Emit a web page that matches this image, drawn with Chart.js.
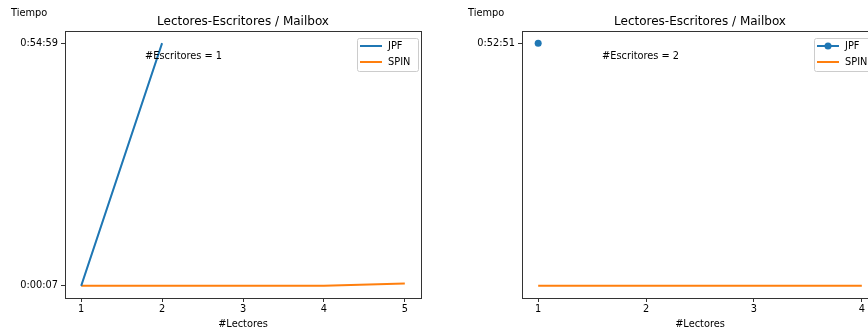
<!DOCTYPE html>
<html>
<head>
<meta charset="utf-8">
<script src="https://cdn.jsdelivr.net/npm/chart.js@4/dist/chart.umd.min.js"></script>
<style>
  html, body { margin: 0; padding: 0; background: #fff; overflow: hidden; }
  #wrap { position: relative; width: 868px; height: 333px; overflow: hidden; }
  .box { position: absolute; top: 0; width: 440px; height: 333px; }
</style>
</head>
<body>
<div id="wrap">
  <div class="box" style="left:0"><canvas id="c1" width="440" height="333"></canvas></div>
  <div class="box" style="left:457px"><canvas id="c2" width="440" height="333"></canvas></div>
</div>
<script>
// --- data (seconds) ---
const lectores1 = [1, 2, 3, 4, 5];
const jpf1 = [7, 3299];
const spin1 = [7, 7, 7, 7, 40];
const yTicks1 = [7, 3299];

const lectores2 = [1, 2, 3, 4];
const jpf2 = [3171];
const spin2 = [8, 8, 8, 8];
const yTicks2 = [3171];

const titleText = 'Lectores-Escritores / Mailbox';
const FONT = '"DejaVu Sans", sans-serif';
const FS = 9.8;
const BLUE = '#1f77b4';
const ORANGE = '#ff7f0e';

function fmtTime(s) {
  s = Math.round(s);
  const h = Math.floor(s / 3600);
  const m = Math.floor((s % 3600) / 60);
  const sec = s % 60;
  return `${h}:${String(m).padStart(2, '0')}:${String(sec).padStart(2, '0')}`;
}

function pts(xs, ys) {
  return ys.map((y, i) => ({ x: xs[i], y }));
}

// matplotlib-like 5% margins
function padRange(vals) {
  const lo = Math.min(...vals), hi = Math.max(...vals);
  const m = (hi - lo) * 0.05;
  return [lo - m, hi + m];
}

const figText = {
  id: 'figText',
  afterDraw(chart, args, opts) {
    const { ctx, chartArea: a } = chart;
    ctx.save();
    // spines
    ctx.strokeStyle = '#333';
    ctx.lineWidth = 1;
    ctx.strokeRect(Math.round(a.left) + 0.5, Math.round(a.top) + 0.5,
      Math.round(a.right - a.left), Math.round(a.bottom - a.top));
    ctx.fillStyle = '#000';
    // title
    ctx.font = `12px ${FONT}`;
    ctx.textAlign = 'center';
    ctx.textBaseline = 'middle';
    ctx.fillText(titleText, (a.left + a.right) / 2, a.top - 9);
    // y label
    ctx.font = `${FS}px ${FONT}`;
    ctx.textAlign = 'left';
    ctx.fillText('Tiempo', a.left - 54, 13);
    // annotation
    ctx.fillText(opts.note, a.left + 80, a.top + 25);
    // legend
    const bw = 61, bh = 33;
    const bx = a.right - bw - 3, by = a.top + 7;
    ctx.fillStyle = 'rgba(255,255,255,0.8)';
    ctx.strokeStyle = '#cccccc';
    ctx.beginPath();
    ctx.roundRect(Math.round(bx) + 0.5, by + 0.5, bw, bh, 2);
    ctx.fill();
    ctx.stroke();
    chart.data.datasets.forEach((ds, i) => {
      const yy = by + 8 + i * 16;
      ctx.strokeStyle = ds.borderColor;
      ctx.lineWidth = 2;
      ctx.beginPath();
      ctx.moveTo(bx + 3, yy);
      ctx.lineTo(bx + 25, yy);
      ctx.stroke();
      if (ds.pointRadius > 0) {
        ctx.fillStyle = ds.borderColor;
        ctx.beginPath();
        ctx.arc(bx + 14, yy, ds.pointRadius, 0, Math.PI * 2);
        ctx.fill();
      }
      ctx.fillStyle = '#000';
      ctx.font = `${FS}px ${FONT}`;
      ctx.textAlign = 'left';
      ctx.textBaseline = 'middle';
      ctx.fillText(ds.label, bx + 31, yy);
    });
    ctx.restore();
  }
};

function makeChart(id, xs, jpf, spin, yTicks, note, jpfMarker) {
  const [xmin, xmax] = padRange(xs);
  const [ymin, ymax] = padRange(jpf.concat(spin));
  return new Chart(document.getElementById(id), {
    type: 'line',
    data: {
      datasets: [
        {
          label: 'JPF',
          data: pts(xs, jpf),
          borderColor: BLUE,
          backgroundColor: BLUE,
          borderWidth: 2,
          pointRadius: jpfMarker ? 3.5 : 0,
          pointBorderWidth: 0,
          tension: 0
        },
        {
          label: 'SPIN',
          data: pts(xs, spin),
          borderColor: ORANGE,
          backgroundColor: ORANGE,
          borderWidth: 2,
          pointRadius: 0,
          tension: 0
        }
      ]
    },
    options: {
      responsive: false,
      animation: false,
      layout: { padding: { left: 0, right: 19, top: 31, bottom: 0 } },
      plugins: {
        legend: { display: false },
        tooltip: { enabled: false },
        figText: { note }
      },
      scales: {
        x: {
          type: 'linear',
          min: xmin,
          max: xmax,
          afterBuildTicks: (s) => { s.ticks = xs.map(v => ({ value: v })); },
          afterFit: (s) => { s.height = 35; },
          grid: { drawOnChartArea: false, drawTicks: true, tickLength: 4, color: '#333' },
          border: { display: false },
          ticks: {
            color: '#000',
            font: { family: FONT, size: FS },
            padding: 2,
            maxRotation: 0,
            callback: (v) => String(v)
          },
          title: {
            display: true,
            text: '#Lectores',
            color: '#000',
            font: { family: FONT, size: FS },
            padding: { top: 0, bottom: 3 }
          }
        },
        y: {
          type: 'linear',
          min: ymin,
          max: ymax,
          afterBuildTicks: (s) => { s.ticks = yTicks.map(v => ({ value: v })); },
          afterFit: (s) => { s.width = 65; },
          grid: { drawOnChartArea: false, drawTicks: true, tickLength: 4, color: '#333' },
          border: { display: false },
          ticks: {
            color: '#000',
            font: { family: FONT, size: FS },
            padding: 3,
            callback: (v) => fmtTime(v)
          }
        }
      }
    },
    plugins: [figText]
  });
}

makeChart('c1', lectores1, jpf1, spin1, yTicks1, '#Escritores = 1', false);
makeChart('c2', lectores2, jpf2, spin2, yTicks2, '#Escritores = 2', true);
</script>
</body>
</html>
